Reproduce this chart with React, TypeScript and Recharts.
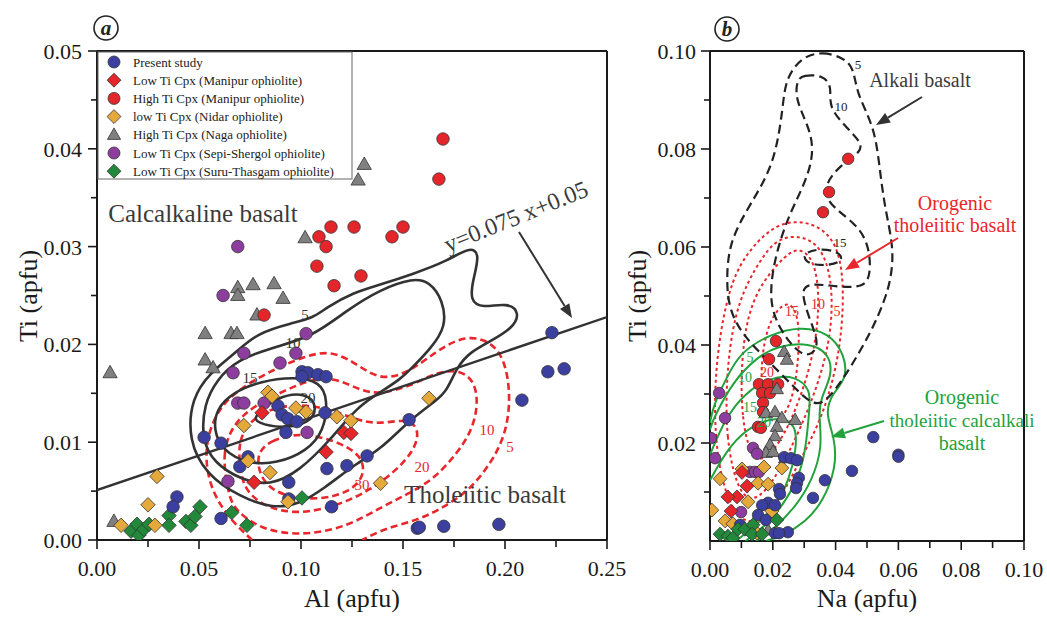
import React from 'react';
import { ScatterChart, Scatter, XAxis, YAxis, ReferenceLine } from 'recharts';

const SERIF = '"Liberation Serif", "Times New Roman", serif';
const AX = '#1a1a1a';

// ---------- Panel (a) data: [Al, Ti] ----------
const aBlue = [[0.0525,0.0105],[0.0608,0.0099],[0.0392,0.0044],[0.0373,0.0034],[0.0608,0.0022],[0.074,0.0085],[0.070,0.0075],[0.094,0.0059],[0.094,0.0042],[0.115,0.0034],[0.1005,0.0172],[0.1034,0.0171],[0.1083,0.0169],[0.1123,0.0167],[0.1005,0.0167],[0.0887,0.0137],[0.0907,0.0128],[0.0936,0.0124],[0.098,0.0121],[0.0926,0.011],[0.1118,0.013],[0.1127,0.0073],[0.1225,0.0076],[0.1324,0.0086],[0.153,0.0123],[0.157,0.0012],[0.158,0.0013],[0.170,0.0014],[0.197,0.0016],[0.2083,0.0143],[0.221,0.0172],[0.229,0.0175],[0.223,0.0212]];
const aRedDiamond = [[0.0809,0.013],[0.077,0.0059],[0.1123,0.009],[0.121,0.011],[0.1245,0.0109]];
const aRedCircle = [[0.1147,0.032],[0.126,0.032],[0.1088,0.031],[0.1123,0.030],[0.1078,0.028],[0.1294,0.027],[0.1162,0.026],[0.0819,0.023],[0.1696,0.041],[0.1676,0.0369],[0.15,0.032],[0.1446,0.031]];
const aYellow = [[0.0294,0.0065],[0.025,0.0036],[0.0118,0.0015],[0.0284,0.0015],[0.0838,0.0151],[0.0858,0.0147],[0.072,0.0117],[0.0975,0.0135],[0.1025,0.0131],[0.1176,0.0126],[0.1245,0.0122],[0.074,0.0081],[0.0848,0.0069],[0.0936,0.0039],[0.139,0.0058],[0.1627,0.0145]];
const aGray = [[0.131,0.0384],[0.128,0.0368],[0.102,0.0309],[0.069,0.0258],[0.069,0.025],[0.0765,0.0261],[0.0868,0.0262],[0.0912,0.0247],[0.0784,0.023],[0.053,0.0211],[0.0657,0.0211],[0.0686,0.0211],[0.053,0.0184],[0.0569,0.0176],[0.0064,0.0171],[0.0083,0.0019]];
const aPurple = [[0.069,0.030],[0.0618,0.025],[0.1025,0.0211],[0.072,0.0191],[0.0975,0.0191],[0.0897,0.0181],[0.0667,0.0171],[0.069,0.014],[0.072,0.014],[0.0819,0.014],[0.103,0.011],[0.0642,0.006]];
const aGreen = [[0.0167,0.0009],[0.0196,0.0016],[0.0206,0.0005],[0.023,0.0011],[0.0255,0.0016],[0.0353,0.0025],[0.0353,0.0015],[0.0436,0.0019],[0.046,0.0015],[0.048,0.0024],[0.0505,0.0034],[0.066,0.0028],[0.0735,0.0015],[0.1005,0.0043]];

// contours (a)
const aCalc5 = [[0.0667,0.0189],[0.0784,0.0212],[0.0961,0.0222],[0.1059,0.0227],[0.1127,0.0238],[0.1255,0.0253],[0.1387,0.0261],[0.1549,0.0272],[0.1716,0.0285],[0.1828,0.0300],[0.1878,0.0293],[0.1843,0.0266],[0.1828,0.0245],[0.1887,0.0237],[0.2015,0.0243],[0.2075,0.0232],[0.2035,0.0216],[0.1926,0.0203],[0.1828,0.0192],[0.1765,0.0177],[0.1716,0.0153],[0.1667,0.0143],[0.1534,0.0123],[0.1387,0.0092],[0.1275,0.0079],[0.1108,0.0052],[0.0995,0.0037],[0.0863,0.0032],[0.0701,0.0044],[0.0535,0.0067],[0.0448,0.0102],[0.0463,0.0145],[0.0554,0.0171]];
const aCalc10 = [[0.0588,0.0164],[0.0686,0.0184],[0.0863,0.0197],[0.1059,0.0208],[0.1225,0.0235],[0.1387,0.0256],[0.1549,0.0268],[0.1632,0.0264],[0.1696,0.0245],[0.1712,0.0218],[0.1636,0.0196],[0.1549,0.0177],[0.1485,0.0164],[0.1387,0.0151],[0.1275,0.0136],[0.1142,0.0102],[0.0995,0.0071],[0.0848,0.0055],[0.0701,0.0062],[0.0574,0.0079],[0.0514,0.0102],[0.0524,0.0139]];
const aCalc15 = [[0.0572,0.0112],[0.0584,0.0134],[0.0667,0.0151],[0.0799,0.0162],[0.0961,0.0167],[0.1096,0.0162],[0.1132,0.0143],[0.1112,0.0111],[0.1029,0.0091],[0.0882,0.0078],[0.0735,0.0078],[0.0614,0.0092]];
const aCalc20 = [[0.0765,0.0126],[0.0882,0.0147],[0.1029,0.0151],[0.1082,0.0136],[0.1044,0.0119],[0.0897,0.0114],[0.0784,0.012]];
const aThol5 = [[0.076,0],[0.0627,0.0026],[0.0539,0.0061],[0.0529,0.0102],[0.0603,0.0138],[0.0725,0.0158],[0.0863,0.0174],[0.0995,0.0186],[0.1127,0.0194],[0.125,0.0184],[0.1387,0.0162],[0.1534,0.0172],[0.1657,0.0192],[0.1779,0.0207],[0.1887,0.0207],[0.1975,0.0194],[0.2015,0.0169],[0.2025,0.0138],[0.2,0.0107],[0.1936,0.008],[0.1828,0.0051],[0.1696,0.0033],[0.1569,0.002],[0.1412,0.0012],[0.1299,0]];
const aThol10 = [[0.0642,0.0051],[0.0613,0.0087],[0.0662,0.0118],[0.0775,0.0138],[0.0922,0.0153],[0.1069,0.0166],[0.1191,0.0164],[0.1289,0.0153],[0.1387,0.0149],[0.1534,0.0157],[0.1667,0.0172],[0.1779,0.0174],[0.1853,0.0162],[0.1868,0.0138],[0.1838,0.0112],[0.177,0.009],[0.1657,0.0063],[0.1525,0.0047],[0.1387,0.0033],[0.124,0.0015],[0.1044,0.0005],[0.0848,0.0008],[0.0725,0.0022],[0.0662,0.0036]];
const aThol20 = [[0.0701,0.0072],[0.0691,0.0102],[0.076,0.0125],[0.0897,0.0138],[0.1093,0.0138],[0.1265,0.0123],[0.1387,0.0118],[0.1534,0.0125],[0.1583,0.011],[0.1549,0.009],[0.1461,0.007],[0.1338,0.0051],[0.1191,0.0036],[0.0995,0.0026],[0.0824,0.0033],[0.0725,0.0051]];
const aThol30 = [[0.0775,0.0087],[0.0848,0.0102],[0.0995,0.011],[0.1167,0.0102],[0.1299,0.0087],[0.1314,0.0066],[0.124,0.0049],[0.1093,0.0041],[0.0922,0.0044],[0.0809,0.0058]];
const aDivider = [[0,0.0051],[0.25,0.0228]];

// ---------- Panel (b) data: [Na, Ti] ----------
const bBlue = [[0.0236,0.0171],[0.0258,0.0169],[0.0277,0.0165],[0.0283,0.0129],[0.0277,0.0118],[0.0274,0.0108],[0.022,0.0106],[0.0223,0.0096],[0.0366,0.0124],[0.0328,0.0088],[0.0185,0.0078],[0.0166,0.0073],[0.0207,0.0073],[0.0153,0.0053],[0.0178,0.0043],[0.0248,0.0018],[0.0207,0.0016],[0.022,0.0016],[0.0096,0.0033],[0.0452,0.0143],[0.052,0.0212],[0.06,0.0176],[0.06,0.0172]];
const bRedDiamond = [[0.0118,0.0112],[0.0086,0.009],[0.0057,0.009],[0.0067,0.0061],[0.0102,0.014]];
const bRedCircle = [[0.044,0.078],[0.0379,0.0712],[0.036,0.0671],[0.021,0.0408],[0.0188,0.0371],[0.0156,0.032],[0.0185,0.032],[0.0217,0.032],[0.0166,0.0302],[0.0191,0.0302],[0.0169,0.0282],[0.0169,0.0263],[0.0153,0.0233],[0.0162,0.0231]];
const bYellow = [[0.0102,0.0147],[0.0172,0.0151],[0.0229,0.0149],[0.0032,0.0127],[0.0153,0.0118],[0.0185,0.0116],[0.0121,0.008],[0.0197,0.0061],[0.0006,0.0063],[0.0048,0.0041],[0.0073,0.0035],[0.015,0.0016]];
const bGray = [[0.0236,0.0386],[0.0245,0.037],[0.0213,0.031],[0.0178,0.0261],[0.0207,0.0263],[0.0229,0.0251],[0.0271,0.0247],[0.0213,0.0233],[0.0207,0.0214],[0.0191,0.0196],[0.0178,0.018],[0.0201,0.0182],[0.0239,0.0169],[0.0185,0.0022]];
const bPurple = [[0.0029,0.0302],[0.0048,0.0251],[0.0003,0.021],[0.0016,0.0169],[0.0137,0.019],[0.015,0.0178],[0.0127,0.0141],[0.0143,0.0141],[0.0156,0.0141],[0.0099,0.0059]];
const bGreen = [[0.0032,0.0014],[0.0057,0.001],[0.0073,0.0006],[0.0089,0.0024],[0.0111,0.0024],[0.0137,0.0033],[0.0134,0.0014],[0.0166,0.0014],[0.0213,0.0043]];

const bAlk5 = [[0.0296,0.099],[0.036,0.0998],[0.0418,0.0988],[0.0458,0.0968],[0.0466,0.0914],[0.0524,0.0845],[0.054,0.0763],[0.0556,0.0682],[0.0585,0.06],[0.0578,0.0539],[0.0556,0.049],[0.0514,0.0428],[0.0448,0.0354],[0.0382,0.0292],[0.0334,0.0272],[0.0268,0.0314],[0.0186,0.0367],[0.0104,0.042],[0.0062,0.0471],[0.0052,0.0527],[0.006,0.061],[0.0127,0.0686],[0.0205,0.0768],[0.0232,0.0882],[0.024,0.0945]];
const bAlk10 = [[0.0277,0.0941],[0.0296,0.0951],[0.036,0.0951],[0.0389,0.0927],[0.0376,0.0886],[0.0436,0.0843],[0.0484,0.0812],[0.0478,0.0794],[0.0439,0.0778],[0.0392,0.0751],[0.0366,0.0722],[0.0373,0.0696],[0.0404,0.0676],[0.0446,0.0655],[0.0487,0.0629],[0.051,0.0588],[0.051,0.0539],[0.0487,0.0518],[0.0414,0.0518],[0.0318,0.0527],[0.0287,0.0512],[0.0318,0.0451],[0.035,0.04],[0.0318,0.0376],[0.0277,0.0386],[0.0223,0.0431],[0.0191,0.0482],[0.0197,0.0547],[0.0223,0.0614],[0.0255,0.0669],[0.0296,0.0722],[0.0328,0.0778],[0.0325,0.0833],[0.0271,0.09]];
const bAlk15 = [[0.0296,0.0588],[0.0357,0.0598],[0.042,0.0588],[0.042,0.0567],[0.035,0.0561],[0.0303,0.0569]];
const bTh5 = [[0.008,0.0043],[0.0025,0.0145],[0.001,0.0288],[0.0032,0.0431],[0.007,0.0533],[0.0118,0.0588],[0.0191,0.0638],[0.0264,0.0655],[0.0341,0.0645],[0.0396,0.0614],[0.0424,0.0553],[0.0424,0.0451],[0.0402,0.0349],[0.0354,0.0247],[0.0287,0.0165],[0.0223,0.0084],[0.0159,0.0033]];
const bTh10 = [[0.0096,0.0084],[0.0048,0.0206],[0.0054,0.0369],[0.0089,0.0492],[0.0159,0.0573],[0.0213,0.0618],[0.0287,0.0624],[0.035,0.0604],[0.0389,0.0539],[0.0389,0.0431],[0.035,0.0329],[0.0287,0.0227],[0.0223,0.0145],[0.0159,0.0084]];
const bTh15 = [[0.0143,0.0145],[0.0096,0.0247],[0.0102,0.041],[0.0143,0.0512],[0.0245,0.0588],[0.0287,0.0598],[0.0334,0.0573],[0.035,0.0492],[0.0334,0.039],[0.0287,0.0288],[0.0223,0.0196]];
const bTh20 = [[0.0191,0.0227],[0.0159,0.0308],[0.0169,0.041],[0.0207,0.0471],[0.0255,0.0492],[0.0287,0.0451],[0.028,0.0349],[0.0255,0.0267]];
const bCa5 = [[0,0.0241],[0.001,0.0276],[0.0054,0.0335],[0.0096,0.0385],[0.0191,0.0422],[0.0287,0.0438],[0.0378,0.0426],[0.043,0.038],[0.0435,0.033],[0.039,0.0302],[0.0366,0.0261],[0.0398,0.021],[0.0402,0.015],[0.036,0.008],[0.0303,0.0038],[0.0236,0.0012],[0.0178,0]];
const bCa10 = [[0,0.0227],[0.001,0.0249],[0.0073,0.0326],[0.015,0.0375],[0.0213,0.0398],[0.0318,0.0405],[0.038,0.0382],[0.039,0.0339],[0.035,0.0288],[0.0347,0.0253],[0.0358,0.0192],[0.0326,0.0124],[0.027,0.0067],[0.0195,0.002],[0.0146,0]];
const bCa15 = [[0,0.0176],[0.0048,0.025],[0.0111,0.0302],[0.0191,0.0334],[0.0271,0.0338],[0.0322,0.0308],[0.0316,0.0267],[0.0308,0.0206],[0.0292,0.0145],[0.0243,0.0082],[0.0178,0.0031],[0.0113,0]];
const bCa20 = [[0,0.0124],[0.0064,0.0198],[0.0143,0.024],[0.0223,0.0254],[0.0275,0.0238],[0.0275,0.0186],[0.0252,0.0124],[0.021,0.0072],[0.0145,0.0031],[0.0082,0]];

// ticks
const aXMajor = [0, 0.05, 0.1, 0.15, 0.2, 0.25];
const aXTicks = [0, 0.025, 0.05, 0.075, 0.1, 0.125, 0.15, 0.175, 0.2, 0.225, 0.25];
const aYMajor = [0, 0.01, 0.02, 0.03, 0.04, 0.05];
const aYTicks = [0, 0.005, 0.01, 0.015, 0.02, 0.025, 0.03, 0.035, 0.04, 0.045, 0.05];
const bXMajor = [0, 0.02, 0.04, 0.06, 0.08, 0.1];
const bXTicks = [0, 0.01, 0.02, 0.03, 0.04, 0.05, 0.06, 0.07, 0.08, 0.09, 0.1];
const bYMajor = [0.02, 0.04, 0.06, 0.08, 0.1];
const bYTicks = [0.01, 0.02, 0.03, 0.04, 0.05, 0.06, 0.07, 0.08, 0.09, 0.1];

const C = {
  blue: '#3b3f9f', red: '#e4262a', yellow: '#e5a83a', gray: '#808080', purple: '#8c3d9e', green: '#22883a',
};
const legendItems = [
  { label: 'Present study', kind: 'circle', fill: C.blue },
  { label: 'Low Ti Cpx (Manipur ophiolite)', kind: 'diamond', fill: C.red },
  { label: 'High Ti Cpx (Manipur ophiolite)', kind: 'circle', fill: C.red },
  { label: 'low Ti Cpx (Nidar ophiolite)', kind: 'diamond', fill: C.yellow },
  { label: 'High Ti Cpx (Naga ophiolite)', kind: 'triangle', fill: C.gray },
  { label: 'Low Ti Cpx (Sepi-Shergol ophiolite)', kind: 'circle', fill: C.purple },
  { label: 'Low Ti Cpx (Suru-Thasgam ophiolite)', kind: 'diamond', fill: C.green },
];

const pts = (arr: number[][]) => arr.map(([x, y]) => ({ x, y }));
const isMajor = (list: number[], v: number) => list.some((m) => Math.abs(m - v) < 1e-9);

function Marker({ kind, cx, cy, fill, s }: { kind: string; cx: number; cy: number; fill: string; s: number }) {
  const st = { stroke: '#333', strokeWidth: 0.8 };
  if (kind === 'circle') return <circle cx={cx} cy={cy} r={s * 0.5} fill={fill} {...st} />;
  if (kind === 'diamond') {
    const h = s * 0.58;
    return <polygon points={`${cx},${cy - h} ${cx + h},${cy} ${cx},${cy + h} ${cx - h},${cy}`} fill={fill} {...st} />;
  }
  const w = s * 1.1;
  const ht = w * 0.87;
  return <polygon points={`${cx},${cy - ht * 0.6} ${cx + w / 2},${cy + ht * 0.4} ${cx - w / 2},${cy + ht * 0.4}`} fill={fill} {...st} />;
}

const shape = (kind: string, fill: string, s: number) => (p: any) => <Marker kind={kind} cx={p.cx} cy={p.cy} fill={fill} s={s} />;
const blank = () => <g />;

const xTick = (majors: number[], fmt: (v: number) => string) => (p: any) => {
  const { x, y, payload } = p;
  const mj = isMajor(majors, payload.value);
  return (
    <g>
      <line x1={x} x2={x} y1={y} y2={y + (mj ? 9 : 7)} stroke={AX} strokeWidth={1.6} />
      {mj && (
        <text x={x} y={y + 36} textAnchor="middle" fontSize={22} fontFamily={SERIF} fill={AX}>{fmt(payload.value)}</text>
      )}
    </g>
  );
};
const yTick = (majors: number[], fmt: (v: number) => string, gap: number) => (p: any) => {
  const { x, y, payload } = p;
  const mj = isMajor(majors, payload.value);
  return (
    <g>
      <line x1={x - (mj ? 9 : 6)} x2={x} y1={y} y2={y} stroke={AX} strokeWidth={1.6} />
      {mj && (
        <text x={x - gap} y={y + 8} textAnchor="end" fontSize={22} fontFamily={SERIF} fill={AX}>{fmt(payload.value)}</text>
      )}
    </g>
  );
};

const contour = (key: string, data: number[][], stroke: string, w: number, dash: string | undefined, type: string) => (
  <Scatter
    key={key}
    data={pts(data)}
    line={{ stroke, strokeWidth: w, strokeDasharray: dash, fill: 'none' }}
    lineJointType={type as any}
    shape={blank}
    isAnimationActive={false}
    legendType="none"
  />
);
const series = (key: string, data: number[][], kind: string, fill: string, s: number) => (
  <Scatter key={key} data={pts(data)} shape={shape(kind, fill, s)} isAnimationActive={false} legendType="none" />
);

function arrow(x1: number, y1: number, x2: number, y2: number, color: string, key: string) {
  const ang = Math.atan2(y2 - y1, x2 - x1);
  const L = 14, W = 5.5;
  const bx = x2 - L * Math.cos(ang), by = y2 - L * Math.sin(ang);
  const px = -Math.sin(ang) * W, py = Math.cos(ang) * W;
  return (
    <g key={key}>
      <line x1={x1} y1={y1} x2={bx} y2={by} stroke={color} strokeWidth={2} />
      <polygon points={`${x2},${y2} ${bx + px},${by + py} ${bx - px},${by - py}`} fill={color} />
    </g>
  );
}

const T = (x: number, y: number, s: string, size: number, fill: string, extra: any = {}) => (
  <text key={s + x + y} x={x} y={y} fontSize={size} fontFamily={SERIF} fill={fill} textAnchor="middle" {...extra}>{s}</text>
);

export default function App() {
  const DK = '#333333';
  const RD = '#e8262b';
  const GR = '#22a23c';
  return (
    <div style={{ position: 'absolute', left: 0, top: 0, width: 1047, height: 617, background: '#fff', fontFamily: SERIF }}>
      <div style={{ position: 'absolute', left: 0, top: 0 }}>
        <ScatterChart width={640} height={617} margin={{ top: 51, right: 33, left: 0, bottom: 17 }}>
          <XAxis type="number" dataKey="x" domain={[0, 0.25]} ticks={aXTicks} interval={0} allowDataOverflow
            height={60} tickSize={0} tickMargin={0} tickLine={false} axisLine={{ stroke: AX, strokeWidth: 2 }}
            tick={xTick(aXMajor, (v) => v.toFixed(2))} />
          <YAxis type="number" dataKey="y" domain={[0, 0.05]} ticks={aYTicks} interval={0} allowDataOverflow
            width={97} tickSize={0} tickMargin={0} tickLine={false} axisLine={{ stroke: AX, strokeWidth: 2 }}
            tick={yTick(aYMajor, (v) => v.toFixed(2), 15)} />
          <ReferenceLine y={0.05} stroke={AX} strokeWidth={2} />
          <ReferenceLine x={0.25} stroke={AX} strokeWidth={2} />
          {contour('at30', aThol30, RD, 2.6, '7 4', 'basisClosed')}
          {contour('at20', aThol20, RD, 2.6, '7 4', 'basisClosed')}
          {contour('at10', aThol10, RD, 2.6, '7 4', 'basisClosed')}
          {contour('at5', aThol5, RD, 2.6, '7 4', 'basis')}
          {contour('ac20', aCalc20, DK, 2.6, undefined, 'basisClosed')}
          {contour('ac15', aCalc15, DK, 2.6, undefined, 'basisClosed')}
          {contour('ac10', aCalc10, DK, 2.6, undefined, 'basisClosed')}
          {contour('ac5', aCalc5, DK, 2.6, undefined, 'basisClosed')}
          {contour('adiv', aDivider, DK, 2.4, undefined, 'linear')}
          {series('agray', aGray, 'triangle', C.gray, 13)}
          {series('apurple', aPurple, 'circle', C.purple, 12.5)}
          {series('agreen', aGreen, 'diamond', C.green, 12.5)}
          {series('aredc', aRedCircle, 'circle', C.red, 12.5)}
          {series('ablue', aBlue, 'circle', C.blue, 12.5)}
          {series('aredd', aRedDiamond, 'diamond', C.red, 12.5)}
          {series('ayellow', aYellow, 'diamond', C.yellow, 12.5)}
        </ScatterChart>
      </div>
      <div style={{ position: 'absolute', left: 620, top: 0 }}>
        <ScatterChart width={427} height={617} margin={{ top: 51, right: 23, left: 0, bottom: 16 }}>
          <XAxis type="number" dataKey="x" domain={[0, 0.1]} ticks={bXTicks} interval={0} allowDataOverflow
            height={60} tickSize={0} tickMargin={0} tickLine={false} axisLine={{ stroke: AX, strokeWidth: 2 }}
            tick={xTick(bXMajor, (v) => v.toFixed(2))} />
          <YAxis type="number" dataKey="y" domain={[0, 0.1]} ticks={bYTicks} interval={0} allowDataOverflow
            width={90} tickSize={0} tickMargin={0} tickLine={false} axisLine={{ stroke: AX, strokeWidth: 2 }}
            tick={yTick(bYMajor, (v) => v.toFixed(2), 14)} />
          <ReferenceLine y={0.1} stroke={AX} strokeWidth={2} />
          <ReferenceLine x={0.1} stroke={AX} strokeWidth={2} />
          {contour('bt5', bTh5, RD, 2, '3 3', 'basisClosed')}
          {contour('bt10', bTh10, RD, 2, '3 3', 'basisClosed')}
          {contour('bt15', bTh15, RD, 2, '3 3', 'basisClosed')}
          {contour('bt20', bTh20, RD, 2, '3 3', 'basisClosed')}
          {contour('bc5', bCa5, GR, 2, undefined, 'basis')}
          {contour('bc10', bCa10, GR, 2, undefined, 'basis')}
          {contour('bc15', bCa15, GR, 2, undefined, 'basis')}
          {contour('bc20', bCa20, GR, 2, undefined, 'basis')}
          {contour('ba5', bAlk5, '#222', 2.2, '9 5', 'basisClosed')}
          {contour('ba10', bAlk10, '#222', 2.2, '9 5', 'basisClosed')}
          {contour('ba15', bAlk15, '#222', 2.2, '9 5', 'basisClosed')}
          {series('bredc', bRedCircle, 'circle', C.red, 11.5)}
          {series('bgray', bGray, 'triangle', C.gray, 12)}
          {series('bpurple', bPurple, 'circle', C.purple, 11.5)}
          {series('byellow', bYellow, 'diamond', C.yellow, 12)}
          {series('bredd', bRedDiamond, 'diamond', C.red, 12)}
          {series('bblue', bBlue, 'circle', C.blue, 11.5)}
          {series('bgreen', bGreen, 'diamond', C.green, 12)}
        </ScatterChart>
      </div>
      <svg width={1047} height={617} style={{ position: 'absolute', left: 0, top: 0, pointerEvents: 'none' }}>
        <rect x={98} y={52} width={254} height={127} fill="#fff" stroke="#666" strokeWidth={1} />
        {legendItems.map((it, i) => (
          <g key={it.label}>
            <Marker kind={it.kind} cx={114} cy={62 + i * 18.2} fill={it.fill} s={12} />
            <text x={133} y={66.5 + i * 18.2} fontSize={13} fontFamily={SERIF} fill="#222">{it.label}</text>
          </g>
        ))}
        <circle cx={106} cy={28} r={12} fill="none" stroke="#222" strokeWidth={1.6} />
        <text x={106} y={35} fontSize={21} fontStyle="italic" fontWeight="bold" fontFamily={SERIF} textAnchor="middle" fill="#222">a</text>
        <circle cx={727} cy={29} r={12} fill="none" stroke="#222" strokeWidth={1.6} />
        <text x={727} y={36} fontSize={21} fontStyle="italic" fontWeight="bold" fontFamily={SERIF} textAnchor="middle" fill="#222">b</text>
        {T(352, 607, 'Al (apfu)', 26, AX)}
        {T(867, 607, 'Na (apfu)', 26, AX)}
        <text x={37} y={296} fontSize={26} fontFamily={SERIF} fill={AX} textAnchor="middle" transform="rotate(-90 37 296)">Ti (apfu)</text>
        <text x={646} y={296} fontSize={26} fontFamily={SERIF} fill={AX} textAnchor="middle" transform="rotate(-90 646 296)">Ti (apfu)</text>
        {T(203, 222, 'Calcalkaline basalt', 25, '#3a3a3a')}
        {T(485, 503, 'Tholeiitic basalt', 25, '#3a3a3a')}
        <text x={519} y={224} fontSize={24} fontFamily={SERIF} fill="#3a3a3a" textAnchor="middle" transform="rotate(-22 519 224)">y=0.075 x+0.05</text>
        {arrow(519, 232, 572, 318, '#333', 'arA')}
        {T(305, 320, '5', 15, '#333')}
        {T(293, 348, '10', 15, '#333')}
        {T(250, 383, '15', 15, '#333')}
        {T(308, 403, '20', 15, '#333')}
        {T(487, 435, '10', 15, RD)}
        {T(510, 452, '5', 15, RD)}
        {T(422, 472, '20', 15, RD)}
        {T(362, 490, '30', 15, RD)}
        {T(920, 87, 'Alkali basalt', 20, '#3a3a3a')}
        {arrow(922, 97, 876, 125, '#333', 'arB1')}
        {T(955, 210, 'Orogenic', 20, RD)}
        {T(955, 232, 'tholeiitic basalt', 20, RD)}
        {arrow(898, 238, 845, 270, RD, 'arB2')}
        {T(962, 404, 'Orogenic', 20, GR)}
        {T(962, 427, 'tholeiitic calcalkali', 19, GR)}
        {T(962, 450, 'basalt', 20, GR)}
        {arrow(884, 421, 831, 437, GR, 'arB3')}
        {T(858, 69, '5', 13, '#222')}
        {T(841, 111, '10', 13, '#222')}
        {T(840, 247, '15', 13, '#222')}
        {T(792, 316, '15', 14, RD)}
        {T(818, 309, '10', 14, RD)}
        {T(837, 316, '5', 14, RD)}
        {T(767, 377, '20', 14, RD)}
        {T(750, 362, '5', 14, GR)}
        {T(745, 382, '10', 14, GR)}
        {T(750, 412, '15', 14, GR)}
        {T(764, 427, '20', 14, GR)}
      </svg>
    </div>
  );
}
